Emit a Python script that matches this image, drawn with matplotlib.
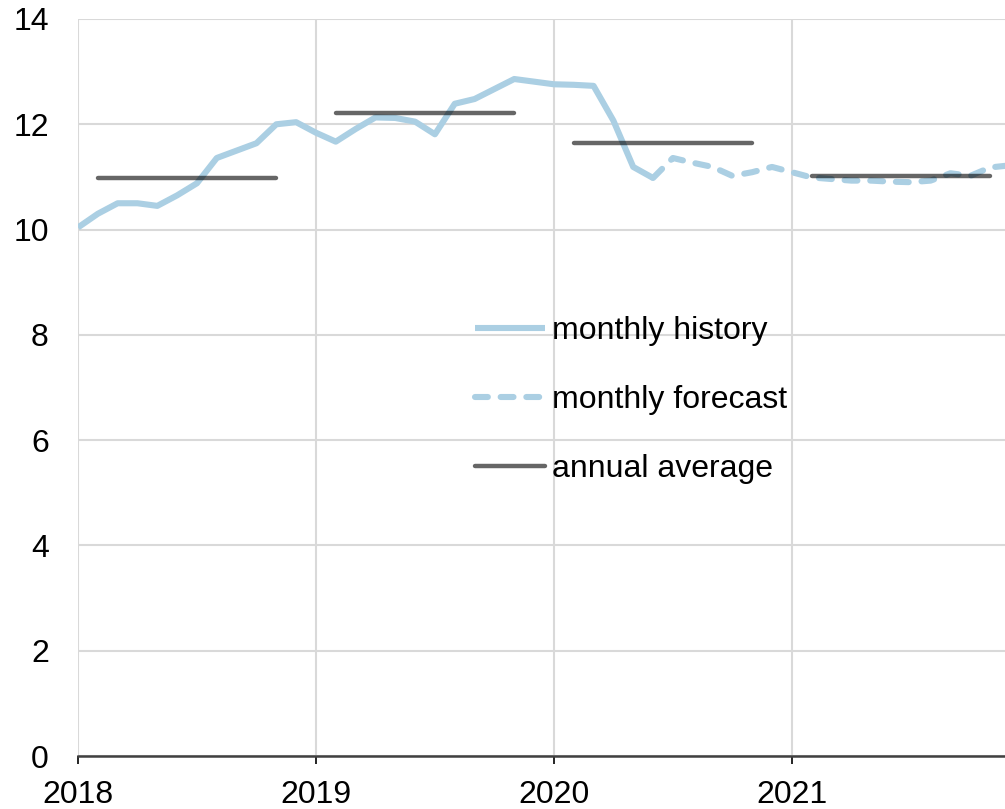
import matplotlib
matplotlib.use("Agg")
import matplotlib.pyplot as plt
import numpy as np

plt.rcParams['font.family'] = ['Liberation Sans', 'DejaVu Sans']

# months since Jan 2018
hist_month = list(range(0, 30))
hist_value = [10.04, 10.30, 10.50, 10.50, 10.45, 10.65, 10.88, 11.36, 11.50, 11.64,
              12.00, 12.04, 11.84, 11.67, 11.91, 12.13, 12.12, 12.05, 11.81, 12.39,
              12.48, 12.67, 12.86, 12.81, 12.76, 12.75, 12.73, 12.07, 11.19, 10.98]
fc_month = list(range(29, 48))
fc_value = [10.98, 11.36, 11.27, 11.19, 11.02, 11.09, 11.19, 11.09, 10.99, 10.96,
            10.93, 10.93, 10.91, 10.90, 10.93, 11.07, 11.02, 11.18, 11.22]
years = [2018, 2019, 2020, 2021]
annual_avg = [10.98, 12.22, 11.64, 11.01]
yticks = [0, 2, 4, 6, 8, 10, 12, 14]

W, H = 1005, 809
fig = plt.figure(figsize=(W / 100, H / 100), dpi=100)
ax = fig.add_axes([78 / W, (H - 756) / H, (W - 78) / W, (756 - 19) / H])

blue = '#abcfe3'
ax.plot(hist_month, hist_value, color=blue, lw=4.4, solid_joinstyle='round',
        solid_capstyle='butt', label='monthly history', zorder=3)
ax.plot(fc_month, fc_value, color=blue, lw=4.4, linestyle=(0, (2.1, 2.1)),
        dash_capstyle='round', label='monthly forecast', zorder=3)
for i, (yr, v) in enumerate(zip(years, annual_avg)):
    x0 = (yr - 2018) * 12
    ax.plot([x0 + 1, x0 + 10], [v, v], color='black', alpha=0.6, lw=3.2,
            solid_capstyle='round', label='annual average' if i == 0 else None, zorder=4)

ax.set_xlim(0, 46.75)
ax.set_ylim(0, 14)
ax.set_xticks([(y - 2018) * 12 for y in years])
ax.set_xticklabels([str(y) for y in years])
ax.set_yticks(yticks)
ax.set_yticklabels([str(t) for t in yticks])

ax.grid(True, color='#d9d9d9', lw=1.5, zorder=0)
ax.set_axisbelow(True)
for s in ['top', 'right', 'left']:
    ax.spines[s].set_visible(False)
ax.spines['bottom'].set_color('#404040')
ax.spines['bottom'].set_linewidth(1.8)
ax.spines['bottom'].set_zorder(5)

ax.tick_params(axis='y', length=0, pad=21, labelsize=23, colors='black')
ax.tick_params(axis='x', length=6, width=1.2, pad=11, labelsize=23, colors='black')

leg = ax.legend(loc='center left', bbox_to_anchor=((475 - 78) / (W - 78), (756 - 400) / (756 - 19)),
                frameon=False, fontsize=23, handlelength=2.2, handletextpad=0.22,
                labelspacing=1.22, borderpad=0, borderaxespad=0)
for t in leg.get_texts():
    t.set_color('black')

fig.savefig('out.png', dpi=100)
